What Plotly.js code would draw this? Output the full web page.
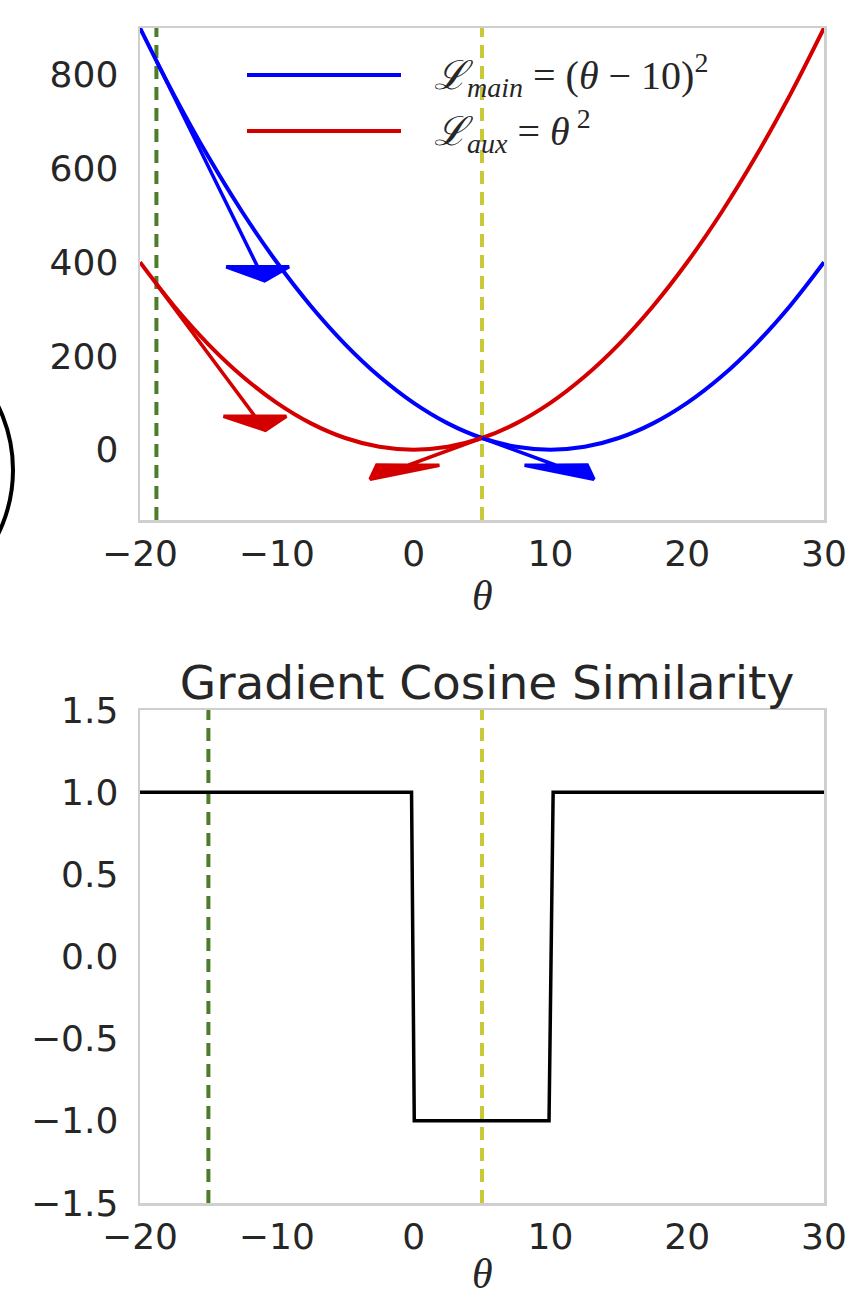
<!DOCTYPE html>
<html><head><meta charset="utf-8">
<script src="https://cdn.plot.ly/plotly-3.0.1.min.js"></script>
<style>html,body{margin:0;padding:0;background:#fff}#chart{width:854px;height:1289px}</style>
</head><body><div id="chart"></div>
<script>
// ---- data ----
const theta    = [-20,-17.5,-15,-12.5,-10,-7.5,-5,-2.5,0,2.5,5,7.5,10,12.5,15,17.5,20,22.5,25,27.5,30];
const lossMain = [900,756.25,625,506.25,400,306.25,225,156.25,100,56.25,25,6.25,0,6.25,25,56.25,100,156.25,225,306.25,400];
const lossAux  = [400,306.25,225,156.25,100,56.25,25,6.25,0,6.25,25,56.25,100,156.25,225,306.25,400,506.25,625,756.25,900];

const arrowX0 = [-18.8, -18.8, 5, 5];
const arrowY0 = [829.4, 353.4, 25, 25];
const arrowDX = [7.4, 7.2, -5.4, 5.4];
const arrowDY = [-439, -282, -58, -58];
const arrowSeries = ['main', 'aux', 'aux', 'main'];

const cosTheta = [-20, -0.15, 0.05, 9.9, 10.2, 30];
const cosSim   = [1, 1, -1, -1, 1, 1];

const topMarkers    = [-18.8, 5];
const bottomMarkers = [-15, 5];

const xTicks       = [-20, -10, 0, 10, 20, 30];
const topYTicks    = [0, 200, 400, 600, 800];
const bottomYTicks = [-1.5, -1, -0.5, 0, 0.5, 1, 1.5];

const legendLabels = [
  '<i>ℒ</i><sub><i>main</i></sub> = (<i>θ</i> − 10)<sup>2</sup>',
  '<i>ℒ</i><sub><i>aux</i></sub> = <i>θ</i><sup> 2</sup>'
];
const titleText = 'Gradient Cosine Similarity';

// ---- styles ----
const colors = {main: '#0000ff', aux: '#d40000'};
const markerColors = ['#4b7d2a', '#c8c838'];
const tickFont = {family: 'DejaVu Sans, sans-serif', size: 36, color: '#262626'};
const mathFont = {family: 'Liberation Serif, DejaVu Serif, serif', size: 40, color: '#262626'};
const axisLabelFont = {family: 'Liberation Serif, DejaVu Serif, serif', size: 42, color: '#262626'};
const frameColor = '#cfcfcf';
const headWidth = 4.6, headLength = 30;

function arrowPolygon(x0, y0, dx, dy) {
  const L = Math.hypot(dx, dy);
  const ux = dx / L, uy = dy / L;
  const px = -uy, py = ux;
  const bx = x0 + dx, by = y0 + dy;
  const tx = bx + headLength * ux, ty = by + headLength * uy;
  const lx = bx + headWidth / 2 * px, ly = by + headWidth / 2 * py;
  const rx = bx - headWidth / 2 * px, ry = by - headWidth / 2 * py;
  return {x: [x0, bx, lx, tx, rx, bx, x0], y: [y0, by, ly, ty, ry, by, y0]};
}

const traces = [
  {x: theta, y: lossMain, type: 'scatter', mode: 'lines', line: {color: colors.main, width: 4, shape: 'spline'}, xaxis: 'x', yaxis: 'y', name: 'main'},
  {x: theta, y: lossAux, type: 'scatter', mode: 'lines', line: {color: colors.aux, width: 4, shape: 'spline'}, xaxis: 'x', yaxis: 'y', name: 'aux'}
];
arrowX0.forEach((x0, i) => {
  const p = arrowPolygon(x0, arrowY0[i], arrowDX[i], arrowDY[i]);
  const c = colors[arrowSeries[i]];
  traces.push({x: p.x, y: p.y, type: 'scatter', mode: 'lines', fill: 'toself', fillcolor: c,
    line: {color: c, width: 3.5}, xaxis: 'x', yaxis: 'y', hoverinfo: 'skip'});
});
traces.push({x: cosTheta, y: cosSim, type: 'scatter', mode: 'lines', line: {color: '#000000', width: 3.5}, xaxis: 'x2', yaxis: 'y2', name: 'cos'});

// layout geometry
const W = 854, H = 1289, mL = 140, mR = 30, mT = 28, mB = 86;
const pw = W - mL - mR, ph = H - mT - mB;
const py2paper = py => (H - mB - py) / ph;
const px2paper = px => (px - mL) / pw;

const shapes = [];
topMarkers.forEach((m, i) => shapes.push({type: 'line', xref: 'x', yref: 'y domain', x0: m, x1: m, y0: 0, y1: 1,
  line: {color: markerColors[i], width: 4, dash: '13px,8px'}, layer: 'below'}));
bottomMarkers.forEach((m, i) => shapes.push({type: 'line', xref: 'x2', yref: 'y2 domain', x0: m, x1: m, y0: 0, y1: 1,
  line: {color: markerColors[i], width: 4, dash: '13px,8px'}, layer: 'below'}));
// legend samples
[['main', 75], ['aux', 131]].forEach(([k, py]) => shapes.push({type: 'line', xref: 'paper', yref: 'paper',
  x0: px2paper(247), x1: px2paper(401), y0: py2paper(py), y1: py2paper(py), line: {color: colors[k], width: 4}}));
// cropped circle fragment at the left edge
shapes.push({type: 'circle', xref: 'paper', yref: 'paper', x0: px2paper(-280), x1: px2paper(13),
  y0: py2paper(616), y1: py2paper(324), line: {color: '#000000', width: 4}});

const annotations = [
  {text: legendLabels[0], xref: 'paper', yref: 'paper', x: px2paper(432), y: py2paper(75), xanchor: 'left', yanchor: 'middle', showarrow: false, font: mathFont},
  {text: legendLabels[1], xref: 'paper', yref: 'paper', x: px2paper(432), y: py2paper(131), xanchor: 'left', yanchor: 'middle', showarrow: false, font: mathFont},
  {text: '<i>θ</i>', xref: 'paper', yref: 'paper', x: 0.5, y: py2paper(596), xanchor: 'center', yanchor: 'middle', showarrow: false, font: axisLabelFont},
  {text: '<i>θ</i>', xref: 'paper', yref: 'paper', x: 0.5, y: py2paper(1274), xanchor: 'center', yanchor: 'middle', showarrow: false, font: axisLabelFont}
];

const xBase = {range: [-20, 30], tickvals: xTicks, ticks: '', showgrid: false, zeroline: false, showline: true, mirror: true,
  linecolor: frameColor, linewidth: 2.5, tickfont: tickFont, ticklabelstandoff: 0};
const yBase = {ticks: '', showgrid: false, zeroline: false, showline: true, mirror: true,
  linecolor: frameColor, linewidth: 2.5, tickfont: tickFont, ticklabelstandoff: 12};

const layout = {
  width: W, height: H, margin: {l: mL, r: mR, t: mT, b: mB},
  paper_bgcolor: '#ffffff', plot_bgcolor: '#ffffff', showlegend: false,
  title: {text: titleText, font: {family: 'DejaVu Sans, sans-serif', size: 47, color: '#262626'},
    x: 487 / W, xanchor: 'center', xref: 'container', y: 1 - 683 / H, yanchor: 'middle', yref: 'container'},
  xaxis: Object.assign({}, xBase, {domain: [0, 1], anchor: 'y'}),
  yaxis: Object.assign({}, yBase, {domain: [py2paper(520), 1], range: [-150, 900], tickvals: topYTicks, anchor: 'x'}),
  xaxis2: Object.assign({}, xBase, {domain: [0, 1], anchor: 'y2'}),
  yaxis2: Object.assign({}, yBase, {domain: [0, py2paper(710)], range: [-1.5, 1.5], tickvals: bottomYTicks, tickformat: '.1f', anchor: 'x2'}),
  shapes: shapes, annotations: annotations
};

Plotly.newPlot('chart', traces, layout, {staticPlot: true, displayModeBar: false});
</script></body></html>
